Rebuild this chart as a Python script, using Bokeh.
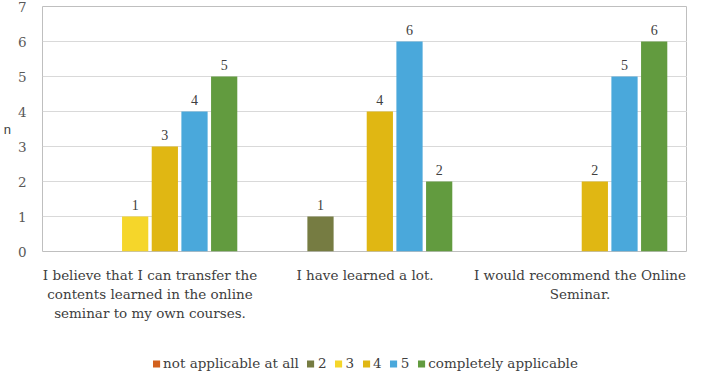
from bokeh.plotting import figure
from bokeh.layouts import column
from bokeh.models import ColumnDataSource, Legend, LegendItem, FixedTicker, Range1d, FactorRange, LabelSet
from bokeh.transform import dodge
from bokeh.embed import file_html
from bokeh.resources import INLINE

categories = [
    "I believe that I can transfer the\ncontents learned in the online\nseminar to my own courses.",
    "I have learned a lot.",
    "I would recommend the Online\nSeminar.",
]
series_names = ["not applicable at all", "2", "3", "4", "5", "completely applicable"]
values_not_applicable = [0, 0, 0]
values_2 = [0, 1, 0]
values_3 = [1, 0, 0]
values_4 = [3, 4, 2]
values_5 = [4, 6, 5]
values_completely = [5, 2, 6]
y_ticks = [0, 1, 2, 3, 4, 5, 6, 7]

series_values = [values_not_applicable, values_2, values_3, values_4, values_5, values_completely]
colors = ["#D2601D", "#767C42", "#F5D62A", "#E0B713", "#4AA8DB", "#629B3F"]

SERIF = "DejaVu Serif"
TEXT = "#404040"

p = figure(x_range=FactorRange(*categories, range_padding=0), y_range=Range1d(0, 7),
           width=687, height=350, output_backend="svg", toolbar_location=None,
           min_border_left=32, min_border_right=0, min_border_top=6, min_border_bottom=99)

# separate strip figure that only carries the legend
lg = figure(x_range=FactorRange(*categories, range_padding=0), y_range=Range1d(100, 101),
            width=687, height=26, output_backend="svg", toolbar_location=None,
            x_axis_location=None, y_axis_location=None,
            min_border_left=0, min_border_right=0, min_border_top=0, min_border_bottom=0)
lg.xgrid.grid_line_color = None
lg.ygrid.grid_line_color = None
lg.outline_line_color = None

step = 0.138
bw = 0.122
items = []
for i, (name, vals, col) in enumerate(zip(series_names, series_values, colors)):
    src = ColumnDataSource(dict(cat=categories, v=vals,
                                lab=[str(v) if v > 0 else "" for v in vals]))
    off = (i - 2.5) * step
    p.vbar(x=dodge("cat", off, range=p.x_range), top="v", width=bw, source=src,
           fill_color=col, line_color=None)
    r = lg.vbar(x=dodge("cat", off, range=lg.x_range), top="v", width=bw, source=src,
                fill_color=col, line_color=None)
    items.append(LegendItem(label=name, renderers=[r]))
    lbl = LabelSet(x=dodge("cat", off, range=p.x_range), y="v", text="lab", source=src,
                   text_align="center", text_baseline="bottom", y_offset=7,
                   text_font=SERIF, text_font_size="14px", text_color=TEXT)
    p.add_layout(lbl)

p.yaxis.ticker = FixedTicker(ticks=y_ticks)
p.yaxis.major_label_text_font = SERIF
p.yaxis.major_label_text_font_size = "13.5px"
p.yaxis.major_label_text_color = "#595959"
p.yaxis.axis_line_color = None
p.yaxis.major_tick_line_color = None
p.yaxis.minor_tick_line_color = None
p.yaxis.major_label_standoff = 10
p.yaxis.axis_label = "n"
p.yaxis.axis_label_orientation = "horizontal"
p.yaxis.axis_label_text_font = "Liberation Sans"
p.yaxis.axis_label_text_font_style = "normal"
p.yaxis.axis_label_text_font_size = "13px"
p.yaxis.axis_label_text_color = TEXT
p.yaxis.axis_label_standoff = 4

p.xaxis.major_label_text_font = SERIF
p.xaxis.major_label_text_font_size = "13.5px"
p.xaxis.major_label_text_color = TEXT
p.xaxis.axis_line_color = None
p.xaxis.major_tick_line_color = None
p.xaxis.major_label_standoff = 9

p.xgrid.grid_line_color = None
p.ygrid.grid_line_color = "#D9D9D9"
p.outline_line_color = "#BFBFBF"
p.background_fill_color = "white"
p.border_fill_color = "white"

legend = Legend(items=items, orientation="horizontal", location="center",
                label_text_font=SERIF, label_text_font_size="13.5px", label_text_color=TEXT,
                glyph_width=9, glyph_height=9, spacing=7, label_standoff=3, label_width=0,
                border_line_color=None, background_fill_alpha=0, padding=0, margin=0)
lg.add_layout(legend, "center")

layout = column(p, lg, spacing=0)
open("out.html", "w").write(file_html(layout, INLINE))
